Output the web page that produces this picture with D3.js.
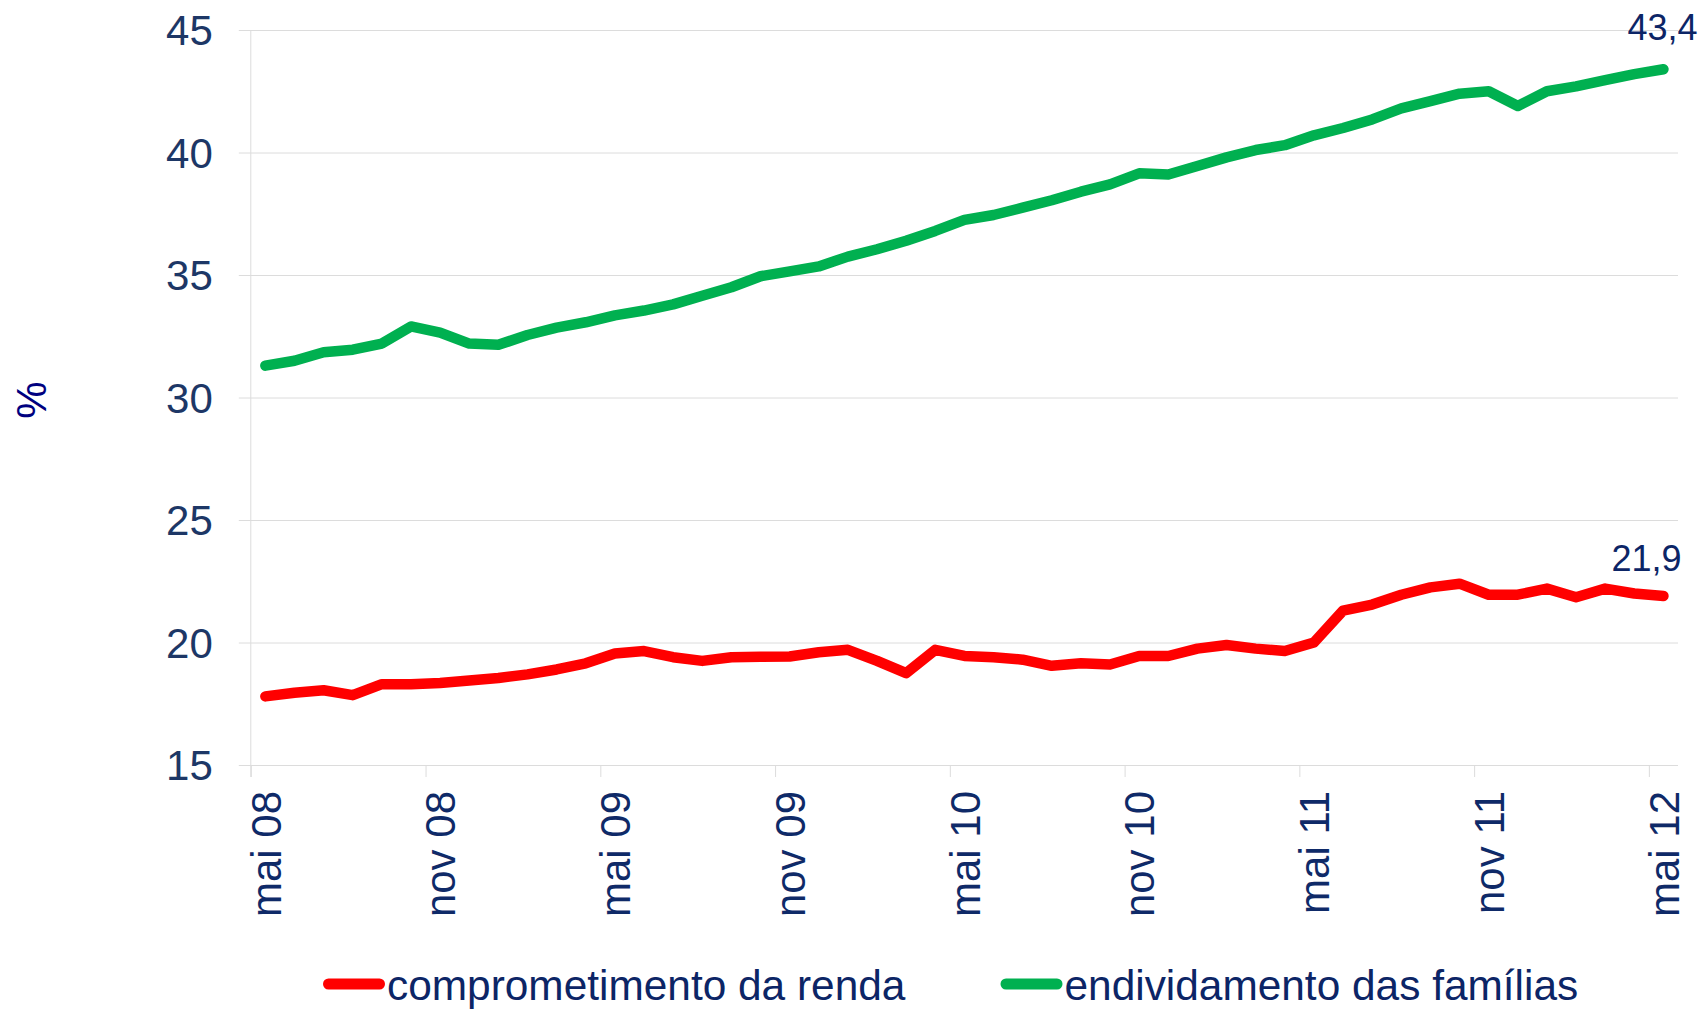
<!DOCTYPE html>
<html>
<head>
<meta charset="utf-8">
<script src="https://cdn.jsdelivr.net/npm/d3@7"></script>
<style>
  html, body { margin: 0; padding: 0; background: #ffffff; }
  svg { display: block; font-family: "Liberation Sans", Arial, sans-serif; }
</style>
</head>
<body>
<svg id="chart" width="1702" height="1009"></svg>
<script>
// Monthly categories, mai 08 .. mai 12
const months = [
  "mai 08","jun 08","jul 08","ago 08","set 08","out 08","nov 08","dez 08",
  "jan 09","fev 09","mar 09","abr 09","mai 09","jun 09","jul 09","ago 09","set 09","out 09","nov 09","dez 09",
  "jan 10","fev 10","mar 10","abr 10","mai 10","jun 10","jul 10","ago 10","set 10","out 10","nov 10","dez 10",
  "jan 11","fev 11","mar 11","abr 11","mai 11","jun 11","jul 11","ago 11","set 11","out 11","nov 11","dez 11",
  "jan 12","fev 12","mar 12","abr 12","mai 12"
];

// comprometimento da renda (%)
const comprometimento = [
  17.8, 17.95, 18.05, 17.85, 18.3, 18.3, 18.35, 18.45, 18.55, 18.7, 18.9, 19.15,
  19.55, 19.65, 19.4, 19.25, 19.4, 19.42, 19.43, 19.6, 19.7, 19.25, 18.75, 19.7,
  19.45, 19.4, 19.3, 19.05, 19.15, 19.1, 19.45, 19.45, 19.75, 19.9, 19.75, 19.65,
  20.0, 21.3, 21.55, 21.95, 22.25, 22.4, 21.95, 21.95, 22.2, 21.85, 22.2, 22.0, 21.9
];

// endividamento das famílias (%)
const endividamento = [
  31.3, 31.5, 31.85, 31.95, 32.2, 32.9, 32.65, 32.2, 32.15, 32.55, 32.85, 33.07,
  33.35, 33.55, 33.8, 34.15, 34.5, 34.95, 35.15, 35.35, 35.75, 36.05, 36.4, 36.8,
  37.25, 37.45, 37.75, 38.05, 38.4, 38.7, 39.15, 39.1, 39.45, 39.8, 40.1, 40.3,
  40.7, 41.0, 41.35, 41.8, 42.1, 42.4, 42.5, 41.9, 42.5, 42.7, 42.95, 43.2, 43.4
];

const yTicks = [15, 20, 25, 30, 35, 40, 45];
const labelEvery = 6;

const seriesList = [
  { name: "comprometimento da renda", values: comprometimento, color: "#ff0000", label: "21,9" },
  { name: "endividamento das famílias", values: endividamento, color: "#00b050", label: "43,4" }
];

const svg = d3.select("#chart");
const plot = { left: 250.8, right: 1678, top: 30, bottom: 765 };

// index scale across month slots; each point sits in the middle of its slot
const x = d3.scaleLinear().domain([0, months.length]).range([plot.left, plot.right]);
const y = d3.scaleLinear().domain([15, 45]).range([plot.bottom, plot.top]);
const xc = i => x(i + 0.5);

// horizontal gridlines with outer ticks on the left
const yAxis = d3.axisLeft(y)
  .tickValues(yTicks)
  .tickSize(12)
  .tickPadding(26)
  .tickFormat(d3.format("d"));
const gy = svg.append("g").attr("transform", `translate(${plot.left},0)`).call(yAxis);
gy.select(".domain").remove();
gy.selectAll(".tick line").attr("stroke", "#dcdcdc").attr("x2", plot.right - plot.left).attr("x1", -12);
gy.selectAll(".tick text")
  .attr("fill", "#1d3766")
  .style("font-size", "42px")
  .attr("dy", "0.35em");

// vertical axis line
svg.append("line")
  .attr("x1", plot.left).attr("x2", plot.left)
  .attr("y1", plot.top).attr("y2", plot.bottom + 12)
  .attr("stroke", "#dcdcdc");

// tick marks at slot boundaries every six months
const tickIdx = d3.range(0, months.length, labelEvery);
const xTicks = d3.axisBottom(x).tickValues(tickIdx).tickSize(12).tickFormat("");
const gx = svg.append("g").attr("transform", `translate(0,${plot.bottom})`).call(xTicks);
gx.select(".domain").remove();
gx.selectAll(".tick line").attr("stroke", "#dcdcdc");

// rotated month labels at slot centers
const xLabels = d3.axisBottom(x)
  .tickValues(tickIdx.map(i => i + 0.5))
  .tickSize(0)
  .tickFormat(v => months[Math.round(v - 0.5)]);
const gl = svg.append("g").attr("transform", `translate(0,${plot.bottom})`).call(xLabels);
gl.select(".domain").remove();
gl.selectAll(".tick text")
  .attr("fill", "#0f2a68")
  .style("font-size", "42px")
  .attr("text-anchor", "end")
  .attr("transform", "rotate(-90)")
  .attr("x", -26)
  .attr("y", 0)
  .attr("dy", "0.35em");

// axis title
svg.append("text")
  .attr("transform", "translate(31,400) rotate(-90)")
  .attr("text-anchor", "middle")
  .attr("dy", "0.35em")
  .attr("fill", "#000080")
  .style("font-size", "42px")
  .text("%");

// series lines
const line = d3.line().x((d, i) => xc(i)).y(d => y(d));
seriesList.forEach(s => {
  svg.append("path")
    .datum(s.values)
    .attr("fill", "none")
    .attr("stroke", s.color)
    .attr("stroke-width", 10.5)
    .attr("stroke-linejoin", "round")
    .attr("stroke-linecap", "round")
    .attr("d", line);
});

// end-of-series value labels
const last = months.length - 1;
svg.append("text")
  .attr("x", xc(last) - 1)
  .attr("y", y(endividamento[last]) - 29)
  .attr("text-anchor", "middle")
  .attr("fill", "#0c2566")
  .style("font-size", "36px")
  .text(seriesList[1].label);
svg.append("text")
  .attr("x", xc(last) - 17)
  .attr("y", y(comprometimento[last]) - 25)
  .attr("text-anchor", "middle")
  .attr("fill", "#0c2566")
  .style("font-size", "36px")
  .text(seriesList[0].label);

// legend
const legendPos = [328.5, 1006];
seriesList.forEach((s, k) => {
  const g = svg.append("g").attr("transform", `translate(${legendPos[k]},984)`);
  g.append("line")
    .attr("x1", 0).attr("x2", 51)
    .attr("stroke", s.color)
    .attr("stroke-width", 11)
    .attr("stroke-linecap", "round");
  g.append("text")
    .attr("x", 58.5)
    .attr("y", 15.5)
    .attr("fill", "#0c2566")
    .style("font-size", "42.4px")
    .text(s.name);
});
</script>
</body>
</html>
